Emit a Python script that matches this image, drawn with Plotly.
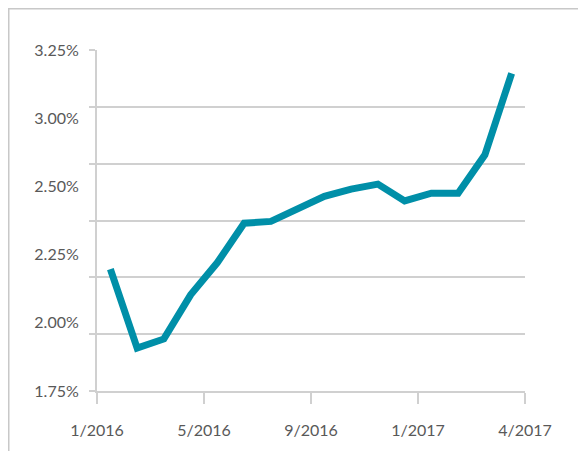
import plotly.graph_objects as go

months = ["1/2016", "2/2016", "3/2016", "4/2016", "5/2016", "6/2016", "7/2016", "8/2016",
          "9/2016", "10/2016", "11/2016", "12/2016", "1/2017", "2/2017", "3/2017", "4/2017"]
rates = [2.286, 1.939, 1.979, 2.173, 2.315, 2.488, 2.496, 2.547,
         2.606, 2.638, 2.660, 2.586, 2.620, 2.620, 2.789, 3.147]
x_tick_labels = ["1/2016", "5/2016", "9/2016", "1/2017", "4/2017"]
y_tick_labels = ["1.75%", "2.00%", "2.25%", "2.50%", "3.00%", "3.25%"]

LINE = "#008FA8"
GRID = "#d0d0d0"
TXT = "#595959"
FONT = "Lato"

W, H = 578, 443
ML, MR, MT, MB = 89, 61, 42, 60
PW, PH = W - ML - MR, H - MT - MB

x_idx = list(range(len(months)))

fig = go.Figure()
fig.add_trace(go.Scatter(
    x=x_idx, y=rates, mode="lines",
    line=dict(color=LINE, width=7),
    text=months, hoverinfo="text+y", showlegend=False,
))
fig.add_trace(go.Scatter(x=[None], y=[None], yaxis="y2", showlegend=False, hoverinfo="skip"))

fig.update_layout(
    width=W, height=H,
    margin=dict(l=ML, r=MR, t=MT, b=MB),
    paper_bgcolor="white", plot_bgcolor="white",
    font=dict(family=FONT, size=16, color=TXT),
    xaxis=dict(
        range=[-0.5, len(months) - 0.5],
        tickvals=[i * 4 - 0.5 for i in range(len(x_tick_labels))],
        ticktext=x_tick_labels,
        showgrid=False, zeroline=False,
        showline=True, linecolor=GRID, linewidth=1.5,
        ticks="outside", ticklen=11, tickcolor=GRID, tickwidth=1.5,
        ticklabelstandoff=13,
        tickfont=dict(family=FONT, size=16, color=TXT),
        fixedrange=True,
    ),
    yaxis=dict(
        range=[1.75, 3.25],
        tick0=1.75, dtick=0.25,
        showticklabels=False,
        showgrid=True, gridcolor=GRID, gridwidth=1.5,
        zeroline=False,
        showline=True, linecolor=GRID, linewidth=1.5,
        ticks="outside", ticklen=6, tickcolor=GRID, tickwidth=1.5,
        fixedrange=True,
    ),
    yaxis2=dict(
        overlaying="y", side="left", anchor="x",
        range=[0, len(y_tick_labels) - 1],
        tickvals=list(range(len(y_tick_labels))),
        ticktext=y_tick_labels,
        showgrid=False, zeroline=False, showline=False,
        ticks="outside", ticklen=14, tickcolor="rgba(0,0,0,0)",
        tickfont=dict(family=FONT, size=16, color=TXT),
        fixedrange=True,
    ),
    shapes=[dict(
        type="rect", xref="paper", yref="paper",
        x0=(0.75 - ML) / PW, x1=1.5, y0=-0.5, y1=(MT + PH - 0.75) / PH,
        line=dict(color="#c8c8c8", width=1.5), fillcolor="rgba(0,0,0,0)", layer="below",
    )],
)

fig.write_html("out.html")
